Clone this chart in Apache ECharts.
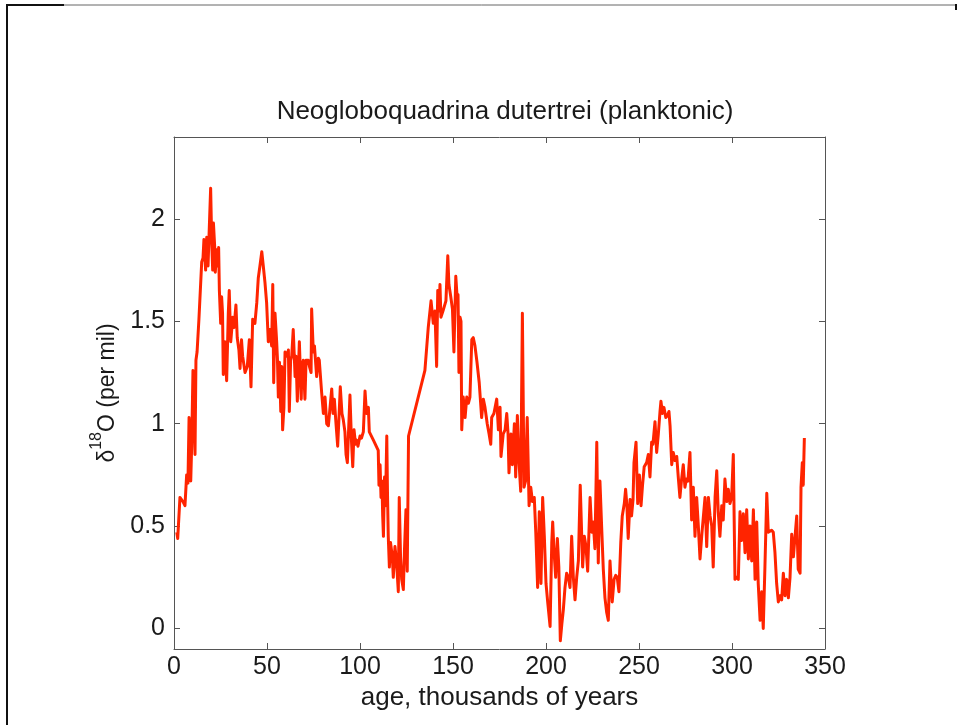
<!DOCTYPE html>
<html>
<head>
<meta charset="utf-8">
<title>Neogloboquadrina dutertrei (planktonic)</title>
<script src="https://cdn.jsdelivr.net/npm/echarts@6/dist/echarts.min.js"></script>
<style>
    html, body { margin: 0; padding: 0; background: #fff; }
    #d18o_chart { width: 961px; height: 725px; }
</style>
</head>
<body>
<div id="d18o_chart"></div>
<script>
// Data
// ------------------------------

// Age, thousands of years
var ages = [
    1.5, 2.0, 3.2, 4.8, 5.9, 6.8, 7.5, 8.1, 9.0, 9.5,
    10.2, 11.3, 11.8, 12.4, 13.4, 14.9, 15.6, 16.1, 17.0, 17.6,
    18.3, 18.8, 19.7, 20.3, 20.8, 21.2, 21.9, 22.2, 23.0, 23.7,
    24.0, 24.4, 25.1, 25.6, 26.1, 26.5, 27.4, 28.3, 29.2, 29.7,
    30.5, 31.6, 32.3, 33.3, 34.0, 34.9, 35.5, 36.3, 36.9, 38.2,
    39.4, 40.5, 41.4, 42.3, 43.5, 44.5, 45.3, 46.2, 47.2, 48.0,
    48.9, 49.8, 50.7, 51.6, 52.5, 53.1, 53.6, 54.3, 55.2, 55.6,
    56.1, 56.7, 57.4, 57.9, 58.4, 59.1, 59.7, 60.8, 61.5, 62.0,
    62.7, 63.3, 64.1, 65.1, 65.6, 66.3, 67.4, 68.4, 68.8, 69.5,
    70.4, 71.0, 72.2, 72.8, 73.7, 74.0, 74.9, 75.5, 76.7, 77.6,
    78.1, 79.4, 80.3, 81.2, 82.1, 83.0, 83.9, 84.8, 85.5, 86.2,
    87.1, 88.0, 88.7, 89.4, 90.3, 91.0, 91.9, 92.5, 93.2, 93.8,
    94.6, 95.4, 96.1, 96.8, 97.6, 98.2, 98.9, 100.0, 100.8, 101.8,
    102.7, 103.5, 104.5, 105.0, 107.2, 109.8, 110.2, 110.8, 111.3, 111.8,
    112.2, 112.6, 113.2, 113.7, 114.4, 114.8, 115.2, 115.8, 116.4, 117.4,
    117.9, 118.8, 119.6, 120.6, 121.1, 121.8, 122.4, 123.3, 123.9, 124.7,
    125.4, 126.1, 134.9, 136.7, 138.2, 139.4, 140.3, 141.2, 141.8, 142.5,
    143.0, 143.5, 144.6, 146.2, 147.2, 147.8, 148.8, 149.7, 150.5, 151.5,
    152.2, 152.7, 153.2, 153.8, 154.3, 154.7, 155.5, 156.5, 157.4, 158.3,
    159.1, 160.1, 160.9, 161.8, 162.9, 164.1, 165.4, 166.3, 167.2, 168.4,
    169.4, 170.3, 170.8, 172.0, 173.5, 174.4, 175.3, 175.8, 177.0, 178.0,
    178.9, 179.6, 180.1, 181.2, 181.9, 183.0, 183.7, 184.6, 185.5, 186.4,
    187.3, 188.2, 189.0, 189.9, 190.9, 191.8, 192.7, 193.7, 194.5, 195.5,
    196.4, 197.3, 198.2, 199.1, 200.0, 200.9, 202.2, 203.1, 203.6, 204.3,
    205.2, 206.1, 206.9, 207.7, 208.5, 209.3, 210.2, 211.1, 212.0, 212.9,
    213.8, 214.7, 215.6, 216.5, 217.4, 218.4, 219.7, 220.6, 221.5, 222.4,
    223.7, 224.6, 225.4, 226.3, 227.3, 228.1, 229.0, 229.9, 230.8, 231.7,
    232.6, 233.5, 234.4, 235.6, 236.6, 237.5, 238.3, 239.2, 240.2, 241.0,
    242.1, 242.8, 243.5, 244.2, 245.2, 246.0, 246.8, 247.3, 248.4, 249.3,
    250.2, 251.1, 251.9, 252.8, 254.1, 255.0, 255.9, 256.8, 257.5, 258.6,
    259.5, 260.4, 261.3, 261.8, 262.6, 263.4, 264.4, 265.3, 266.1, 266.7,
    267.6, 268.4, 269.4, 270.3, 271.1, 272.0, 272.8, 273.8, 274.7, 275.5,
    276.3, 277.4, 278.3, 279.2, 280.1, 281.0, 281.9, 282.8, 283.7, 284.6,
    285.5, 286.4, 287.3, 288.2, 289.1, 289.9, 290.9, 291.8, 292.6, 293.5,
    294.5, 295.3, 296.2, 297.2, 298.0, 298.9, 299.8, 300.7, 301.6, 302.5,
    303.4, 304.3, 305.2, 306.1, 307.0, 307.9, 308.8, 309.7, 310.6, 311.5,
    312.4, 313.3, 314.1, 315.1, 316.0, 316.8, 317.7, 318.7, 319.5, 320.4,
    321.3, 322.2, 323.1, 324.0, 324.9, 325.8, 326.7, 327.6, 328.5, 329.4,
    330.3, 331.2, 332.1, 333.0, 333.9, 334.8, 335.6, 336.6, 337.1, 337.8,
    338.3, 338.9
];

// delta 18O, per mil
var d18o = [
    0.47, 0.44, 0.64, 0.62, 0.60, 0.75, 0.71, 1.03, 0.72, 0.89,
    1.26, 0.85, 1.31, 1.35, 1.51, 1.79, 1.81, 1.90, 1.75, 1.91,
    1.77, 1.91, 2.15, 1.88, 1.75, 1.98, 1.86, 1.74, 1.85, 1.77,
    1.86, 1.65, 1.49, 1.62, 1.54, 1.24, 1.40, 1.21, 1.54, 1.65,
    1.40, 1.52, 1.47, 1.58, 1.42, 1.36, 1.27, 1.41, 1.33, 1.25,
    1.28, 1.41, 1.18, 1.51, 1.49, 1.59, 1.71, 1.77, 1.84, 1.77,
    1.69, 1.59, 1.40, 1.46, 1.38, 1.68, 1.20, 1.54, 1.40, 1.32,
    1.13, 1.30, 1.06, 1.28, 0.97, 1.08, 1.35, 1.33, 1.36, 1.06,
    1.31, 1.33, 1.46, 1.23, 1.33, 1.11, 1.40, 1.12, 1.28, 1.31,
    1.12, 1.31, 1.31, 1.28, 1.25, 1.56, 1.35, 1.38, 1.23, 1.32,
    1.31, 1.15, 1.05, 1.13, 1.00, 0.99, 1.08, 1.17, 1.05, 1.12,
    1.00, 0.89, 1.03, 1.18, 1.05, 1.02, 0.96, 0.85, 0.81, 0.95,
    1.14, 0.92, 0.79, 0.97, 0.90, 0.92, 0.89, 0.94, 0.93, 0.96,
    1.16, 1.05, 1.08, 0.96, 0.92, 0.87, 0.70, 0.80, 0.64, 0.72,
    0.55, 0.45, 0.74, 0.60, 0.94, 0.65, 0.45, 0.30, 0.42, 0.35,
    0.25, 0.40, 0.33, 0.18, 0.64, 0.35, 0.24, 0.19, 0.38, 0.58,
    0.28, 0.94, 1.26, 1.47, 1.60, 1.49, 1.55, 1.28, 1.65, 1.55,
    1.68, 1.52, 1.55, 1.60, 1.82, 1.68, 1.62, 1.56, 1.35, 1.72,
    1.62, 1.63, 1.25, 1.52, 1.50, 0.97, 1.13, 1.03, 1.13, 1.10,
    1.13, 1.41, 1.42, 1.38, 1.30, 1.20, 1.03, 1.12, 1.08, 1.00,
    0.95, 0.90, 1.03, 1.05, 1.12, 0.97, 1.08, 0.84, 0.95, 0.97,
    1.05, 0.95, 0.76, 0.95, 0.80, 1.00, 0.74, 1.04, 0.81, 0.67,
    1.54, 0.69, 0.72, 1.03, 0.60, 0.69, 0.62, 0.64, 0.47, 0.20,
    0.57, 0.22, 0.64, 0.45, 0.22, 0.13, 0.01, 0.42, 0.52, 0.38,
    0.25, 0.44, 0.30, -0.06, 0.02, 0.09, 0.20, 0.27, 0.25, 0.20,
    0.45, 0.25, 0.14, 0.25, 0.33, 0.70, 0.30, 0.45, 0.40, 0.28,
    0.64, 0.47, 0.52, 0.39, 0.91, 0.32, 0.72, 0.50, 0.29, 0.15,
    0.08, 0.04, 0.33, 0.13, 0.24, 0.26, 0.25, 0.18, 0.42, 0.55,
    0.61, 0.68, 0.60, 0.44, 0.63, 0.55, 0.63, 0.81, 0.91, 0.61,
    0.75, 0.60, 0.70, 0.79, 0.81, 0.85, 0.74, 0.91, 0.90, 1.01,
    0.86, 0.95, 1.06, 1.11, 1.05, 1.08, 1.03, 1.04, 1.06, 0.99,
    0.80, 0.86, 0.82, 0.84, 0.74, 0.64, 0.72, 0.80, 0.69, 0.73,
    0.72, 0.86, 0.53, 0.69, 0.45, 0.64, 0.50, 0.34, 0.45, 0.45,
    0.64, 0.40, 0.64, 0.55, 0.50, 0.30, 0.64, 0.77, 0.57, 0.45,
    0.60, 0.53, 0.73, 0.62, 0.68, 0.61, 0.64, 0.85, 0.24, 0.25,
    0.24, 0.57, 0.43, 0.56, 0.37, 0.58, 0.34, 0.50, 0.33, 0.58,
    0.24, 0.52, 0.22, 0.04, 0.18, 0.00, 0.30, 0.66, 0.47, 0.47,
    0.48, 0.47, 0.37, 0.22, 0.13, 0.16, 0.14, 0.27, 0.16, 0.24,
    0.15, 0.25, 0.46, 0.35, 0.45, 0.55, 0.29, 0.27, 0.69, 0.81,
    0.70, 0.93
];

// Tick labels
var xTicks = [0, 50, 100, 150, 200, 250, 300, 350];
var yTicks = [0, 0.5, 1, 1.5, 2];


// Chart
// ------------------------------

var d18o_element = document.getElementById('d18o_chart');
var d18o_chart = echarts.init(d18o_element, null, { renderer: 'canvas' });

var fontFamily = '"Liberation Sans", Arial, Helvetica, sans-serif';
var axisColor = '#555';
var textColor = '#1a1a1a';

var seriesData = ages.map(function(a, i) {
    return [a, d18o[i]];
});

// Shared look of the box axes (MATLAB style, ticks inside on all four sides)
var boxLine = { show: true, onZero: false, lineStyle: { color: axisColor, width: 1 } };
var boxTick = { show: true, inside: true, length: 6, lineStyle: { color: axisColor, width: 1 } };

d18o_chart.setOption({
    animation: false,
    backgroundColor: '#fff',
    textStyle: {
        fontFamily: fontFamily
    },

    title: {
        text: 'Neogloboquadrina dutertrei (planktonic)',
        left: 500,
        top: 94,
        textAlign: 'center',
        textStyle: {
            fontFamily: fontFamily,
            fontSize: 26,
            fontWeight: 'normal',
            color: textColor
        }
    },

    grid: {
        left: 174,
        right: 136,
        top: 137,
        bottom: 76,
        containLabel: false
    },

    xAxis: [{
        type: 'value',
        min: xTicks[0],
        max: xTicks[xTicks.length - 1],
        interval: 50,
        name: 'age, thousands of years',
        nameLocation: 'middle',
        nameGap: 32,
        nameTextStyle: { fontSize: 26, color: textColor, fontFamily: fontFamily },
        axisLine: boxLine,
        axisTick: boxTick,
        axisLabel: { fontSize: 25, color: textColor, margin: 6, fontFamily: fontFamily },
        splitLine: { show: false }
    }, {
        type: 'value',
        position: 'top',
        min: xTicks[0],
        max: xTicks[xTicks.length - 1],
        interval: 50,
        axisLine: boxLine,
        axisTick: boxTick,
        axisLabel: { show: false },
        splitLine: { show: false }
    }],

    yAxis: [{
        type: 'value',
        min: -0.1,
        max: 2.4,
        name: '{n|δ}{s|18}{n|O (per mil)}',
        nameLocation: 'middle',
        nameGap: 52,
        nameRotate: 90,
        nameTextStyle: {
            fontFamily: fontFamily,
            color: textColor,
            rich: {
                n: { fontSize: 23, lineHeight: 31, verticalAlign: 'bottom', color: textColor, fontFamily: fontFamily },
                s: { fontSize: 16, lineHeight: 31, verticalAlign: 'top', color: textColor, fontFamily: fontFamily }
            }
        },
        axisLine: boxLine,
        axisTick: Object.assign({ customValues: yTicks }, boxTick),
        axisLabel: { customValues: yTicks, fontSize: 25, color: textColor, margin: 9, fontFamily: fontFamily },
        splitLine: { show: false }
    }, {
        type: 'value',
        position: 'right',
        min: -0.1,
        max: 2.4,
        axisLine: boxLine,
        axisTick: Object.assign({ customValues: yTicks }, boxTick),
        axisLabel: { show: false },
        splitLine: { show: false }
    }],

    // Figure frame remnants along the top and left edges
    graphic: [
        { type: 'line', silent: true, shape: { x1: 7, y1: 5, x2: 956, y2: 5 }, style: { stroke: '#666', lineWidth: 1 } },
        { type: 'line', silent: true, shape: { x1: 7, y1: 5, x2: 64, y2: 5 }, style: { stroke: '#111', lineWidth: 2 } },
        { type: 'line', silent: true, shape: { x1: 7, y1: 4, x2: 7, y2: 725 }, style: { stroke: '#111', lineWidth: 2 } },
        { type: 'line', silent: true, shape: { x1: 956, y1: 4, x2: 956, y2: 10 }, style: { stroke: '#111', lineWidth: 2 } }
    ],

    series: [{
        name: 'δ18O',
        type: 'line',
        xAxisIndex: 0,
        yAxisIndex: 0,
        symbol: 'none',
        smooth: false,
        clip: true,
        lineStyle: {
            color: '#ff2400',
            width: 3,
            join: 'round'
        },
        data: seriesData
    }]
});
</script>
</body>
</html>
